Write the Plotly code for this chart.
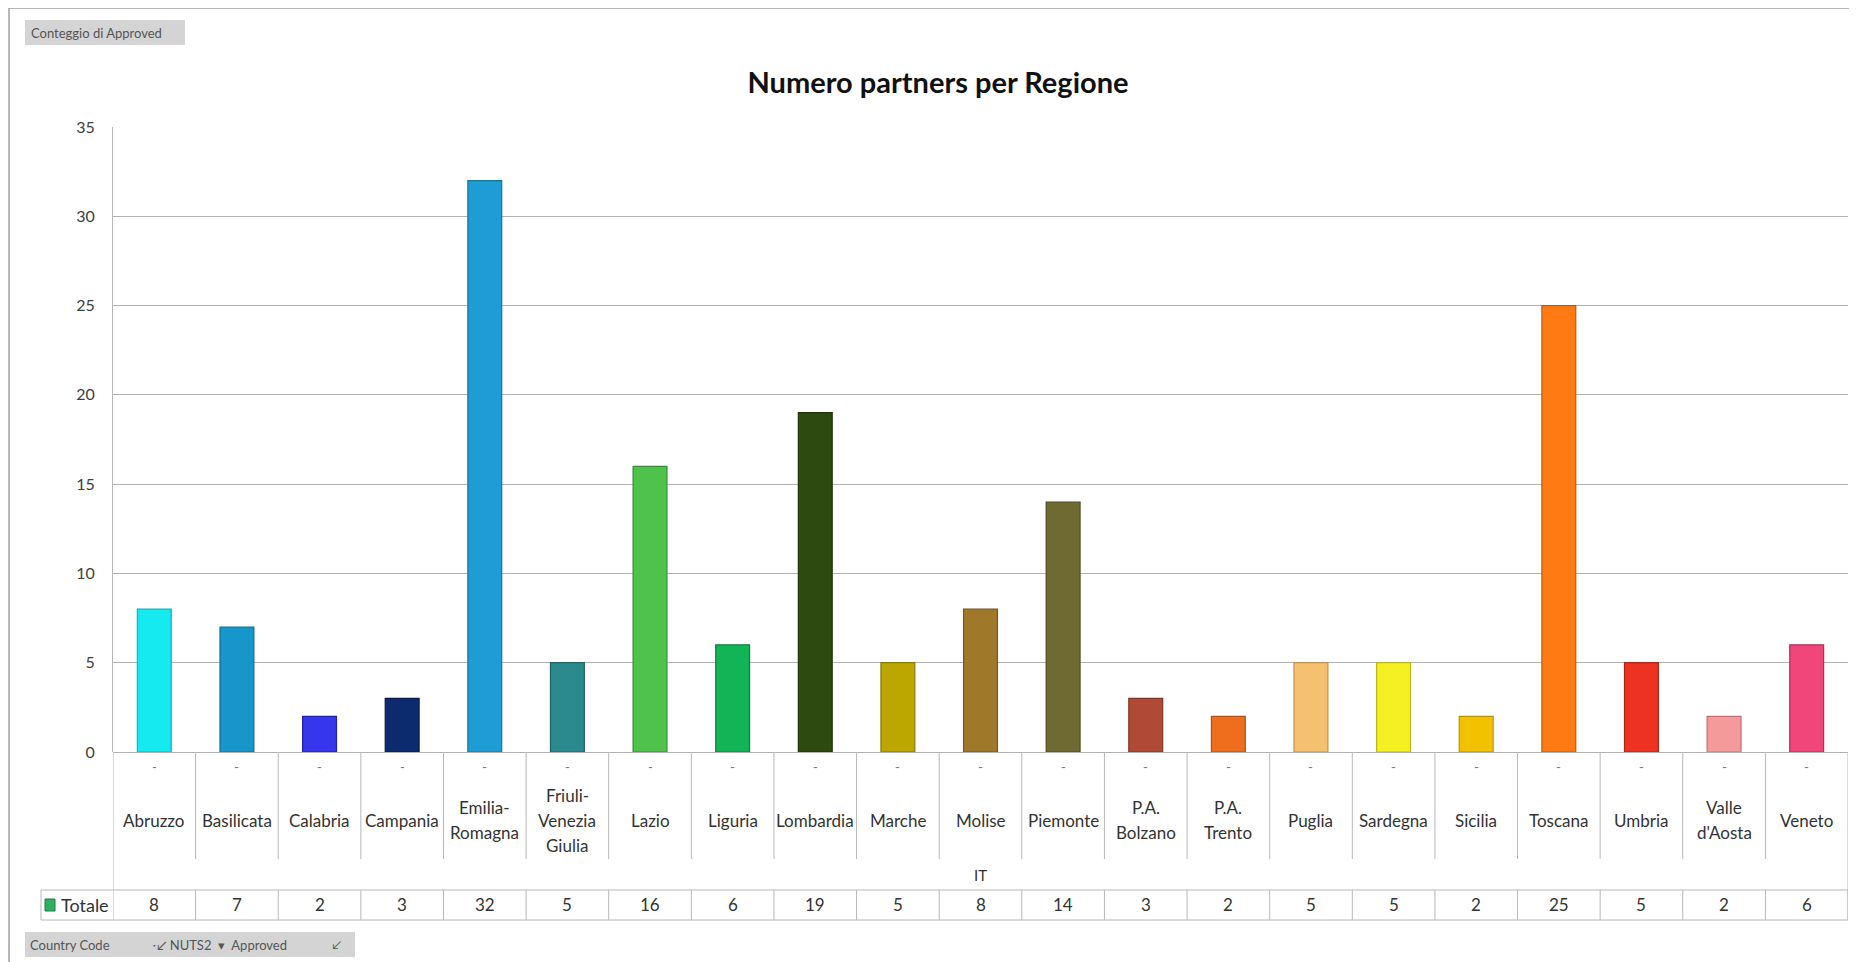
import plotly.graph_objects as go

regions = ["Abruzzo", "Basilicata", "Calabria", "Campania", "Emilia-\nRomagna",
           "Friuli-\nVenezia\nGiulia", "Lazio", "Liguria", "Lombardia", "Marche",
           "Molise", "Piemonte", "P.A.\nBolzano", "P.A.\nTrento", "Puglia",
           "Sardegna", "Sicilia", "Toscana", "Umbria", "Valle\nd'Aosta", "Veneto"]
partners = [8, 7, 2, 3, 32, 5, 16, 6, 19, 5, 8, 14, 3, 2, 5, 5, 2, 25, 5, 2, 6]
bar_colors = ["#14EAF0", "#1696CA", "#3636EC", "#0B2B6E", "#1E9DD4", "#2B8A8E",
              "#4EC24B", "#13B456", "#2D4A0F", "#BCA600", "#A0782A", "#6E6A32",
              "#B04A36", "#EE6E1E", "#F5C070", "#F4F022", "#F2C200", "#FF7A12",
              "#EE3222", "#F59A9A", "#F0467A"]
line_colors = ["#0FB5BA", "#0F6E96", "#2222A8", "#071C4A", "#15769F", "#1D6366",
               "#378C35", "#0D823E", "#1E330A", "#8A7A00", "#74561E", "#4F4C24",
               "#803526", "#B0501A", "#C09050", "#B8B418", "#B89200", "#C05A0C",
               "#B02418", "#C07070", "#B03058"]
y_ticks = [0, 5, 10, 15, 20, 25, 30, 35]
title = "Numero partners per Regione"
row_label = "Totale"
group_label = "IT"

# page offset (default body margin of the html page)
O = 8
SW, SH = 1857, 962
W, H = SW - O, SH - O
# plot area in screen pixels
L, R, T, B = 113, 1848, 127, 752
PW, PH = R - L, B - T


def px(x):
    return (x - L) / PW


def py(y):
    return (B - y) / PH


n = len(regions)
FONT = "Lato"
TXT = "#333333"

fig = go.Figure()
fig.add_trace(go.Bar(
    x=list(range(n)), y=partners,
    marker=dict(color=bar_colors, line=dict(color=line_colors, width=1.2)),
    width=0.41, showlegend=False,
))

shapes = []
annotations = []
grey = "#B8B8B8"

SEP_BOTTOM, ROW_TOP, ROW_BOT = 859, 890, 920

# table vertical separators
for i in range(n + 1):
    xb = i - 0.5
    if i == 0:
        y1 = py(ROW_TOP)
    elif i == n:
        y1 = py(ROW_BOT)
    else:
        y1 = py(SEP_BOTTOM)
    shapes.append(dict(type="line", xref="x", yref="paper", x0=xb, x1=xb,
                       y0=0, y1=y1, line=dict(color=grey, width=1)))
    shapes.append(dict(type="line", xref="x", yref="paper", x0=xb, x1=xb,
                       y0=py(ROW_TOP), y1=py(ROW_BOT), line=dict(color=grey, width=1)))

# Totale row horizontals
for yy in (ROW_TOP, ROW_BOT):
    shapes.append(dict(type="line", xref="paper", yref="paper", x0=px(41), x1=1,
                       y0=py(yy), y1=py(yy), line=dict(color=grey, width=1)))
shapes.append(dict(type="line", xref="paper", yref="paper", x0=px(41), x1=px(41),
                   y0=py(ROW_TOP), y1=py(ROW_BOT), line=dict(color=grey, width=1)))

# legend key square
shapes.append(dict(type="rect", xref="paper", yref="paper", x0=px(45), x1=px(55),
                   y0=py(911), y1=py(899), fillcolor="#2FAE62",
                   line=dict(color="#1E7A44", width=1)))

# outer chart border (left and top)
shapes.append(dict(type="line", xref="paper", yref="paper", x0=px(9), x1=px(9),
                   y0=py(8), y1=py(962), line=dict(color="#A0A0A0", width=1.5)))
shapes.append(dict(type="line", xref="paper", yref="paper", x0=px(9), x1=px(1857),
                   y0=py(8), y1=py(8), line=dict(color="#A0A0A0", width=1.5)))

# field buttons
shapes.append(dict(type="rect", xref="paper", yref="paper", x0=px(25), x1=px(185),
                   y0=py(45), y1=py(20), fillcolor="#D4D4D4", line=dict(width=0)))
shapes.append(dict(type="rect", xref="paper", yref="paper", x0=px(25), x1=px(355),
                   y0=py(957), y1=py(932), fillcolor="#D4D4D4", line=dict(width=0)))

annotations.append(dict(text="Conteggio di Approved", xref="paper", yref="paper",
                        x=px(29), y=py(32.5), xanchor="left", yanchor="middle",
                        showarrow=False, font=dict(family=FONT, size=13, color="#555555")))
annotations.append(dict(text="Country Code", xref="paper", yref="paper",
                        x=px(28), y=py(944.5), xanchor="left", yanchor="middle",
                        showarrow=False, font=dict(family=FONT, size=13, color="#555555")))
annotations.append(dict(text="\u02d1\u2199 NUTS2  \u25be  Approved", xref="paper", yref="paper",
                        x=px(150), y=py(944.5), xanchor="left", yanchor="middle",
                        showarrow=False, font=dict(family=FONT, size=13, color="#555555")))
annotations.append(dict(text="\u2199", xref="paper", yref="paper",
                        x=px(330), y=py(944.5), xanchor="left", yanchor="middle",
                        showarrow=False, font=dict(family=FONT, size=12, color="#555555")))

# category labels, dashes and totals
LINE_H = 25
for i, lab in enumerate(regions):
    lines = lab.split("\n")
    k = len(lines)
    for j, ln in enumerate(lines):
        yc = 820 - (k - 1) * LINE_H / 2 + j * LINE_H
        annotations.append(dict(text=ln, x=i, xref="x", y=py(yc), yref="paper",
                                xanchor="center", yanchor="middle", showarrow=False,
                                font=dict(family=FONT, size=17, color=TXT)))
    annotations.append(dict(text="-", x=i, xref="x", y=py(767), yref="paper",
                            xanchor="center", yanchor="middle", showarrow=False,
                            font=dict(family=FONT, size=13, color="#777777")))
    annotations.append(dict(text=str(partners[i]), x=i, xref="x", y=py(905), yref="paper",
                            xanchor="center", yanchor="middle", showarrow=False,
                            font=dict(family=FONT, size=17, color=TXT)))

annotations.append(dict(text=group_label, x=0.5, xref="paper", y=py(875), yref="paper",
                        xanchor="center", yanchor="middle", showarrow=False,
                        font=dict(family=FONT, size=15, color=TXT)))
annotations.append(dict(text=row_label, xref="paper", y=py(905), yref="paper",
                        x=px(59), xanchor="left", yanchor="middle", showarrow=False,
                        font=dict(family=FONT, size=18, color=TXT)))

fig.update_layout(
    width=W, height=H, autosize=False,
    margin=dict(l=L - O, r=SW - R, t=T - O, b=SH - B, pad=0),
    paper_bgcolor="white", plot_bgcolor="white",
    title=dict(text="<b>" + title + "</b>", x=(938 - O) / W, xref="container",
               xanchor="center", y=1 - (83 - O) / H, yref="container", yanchor="middle",
               font=dict(family=FONT, size=29, color="#111111")),
    xaxis=dict(range=[-0.5, n - 0.5], showticklabels=False, showgrid=False,
               zeroline=False, showline=False, fixedrange=True),
    yaxis=dict(range=[0, 35], tickvals=y_ticks, showgrid=True, gridcolor="#B3B3B3",
               gridwidth=1, zeroline=True, zerolinecolor="#B3B3B3", zerolinewidth=1,
               showline=True, linecolor="#B8B8B8", linewidth=1, ticks="",
               ticklabelstandoff=14,
               tickfont=dict(family=FONT, size=16, color="#404040")),
    shapes=shapes, annotations=annotations, bargap=0.59, showlegend=False,
)

fig.write_html("out.html")
